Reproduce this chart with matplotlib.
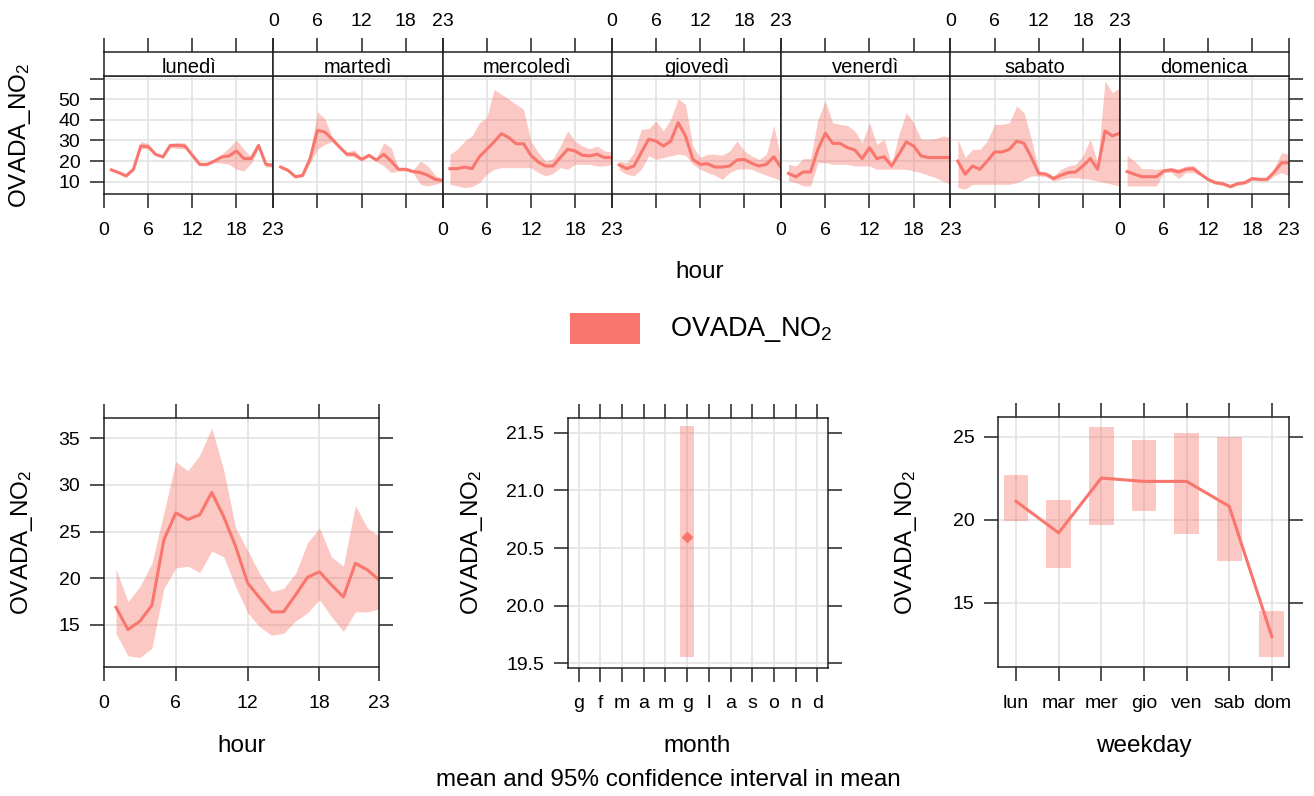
import matplotlib
matplotlib.use("Agg")
import matplotlib.pyplot as plt
from matplotlib.patches import Rectangle

plt.rcParams['font.family'] = ['Liberation Sans', 'DejaVu Sans']
plt.rcParams['mathtext.fontset'] = 'custom'
plt.rcParams['mathtext.rm'] = 'Liberation Sans'
plt.rcParams['mathtext.it'] = 'Liberation Sans:italic'
plt.rcParams['mathtext.bf'] = 'Liberation Sans:bold'

# ---- dati ----
hours = list(range(1, 24))
day_names = ['lunedì', 'martedì', 'mercoledì', 'giovedì', 'venerdì', 'sabato', 'domenica']

mean_lun = [15.7, 14.4, 12.8, 16.0, 27.3, 27.0, 23.3, 22.0, 27.6, 27.6, 27.3, 22.8,
            18.4, 18.4, 20.0, 22.0, 22.5, 24.9, 21.2, 21.2, 27.6, 18.4, 17.9]
lo_lun = [15.1, 13.8, 12.1, 15.2, 26.0, 26.0, 22.6, 21.3, 26.5, 26.0, 26.0, 22.0,
          17.7, 17.7, 19.2, 19.0, 18.4, 16.0, 15.2, 18.9, 26.0, 17.0, 17.2]
hi_lun = [16.3, 15.0, 13.4, 16.8, 29.5, 28.5, 24.0, 22.7, 28.5, 29.0, 28.8, 23.5,
          19.1, 19.1, 20.8, 23.3, 26.5, 30.2, 25.7, 22.1, 29.0, 19.5, 18.6]

mean_mar = [17.1, 15.5, 12.4, 13.1, 21.2, 34.9, 34.1, 30.6, 26.8, 23.3, 23.3, 20.8,
            22.8, 20.5, 23.3, 20.0, 16.0, 16.0, 14.9, 14.4, 13.1, 11.1, 10.6]
lo_mar = [16.4, 14.8, 11.7, 12.4, 19.0, 25.7, 28.1, 29.5, 26.0, 22.3, 22.0, 20.0,
          22.0, 19.7, 17.6, 14.4, 15.2, 15.2, 14.1, 8.7, 7.9, 8.7, 9.9]
hi_mar = [17.8, 16.2, 13.1, 13.8, 24.0, 43.8, 40.6, 31.5, 27.6, 24.3, 25.5, 21.6,
          23.6, 21.3, 28.9, 26.5, 16.8, 16.8, 15.7, 20.0, 17.6, 13.1, 11.3]

mean_mer = [16.3, 16.3, 17.1, 16.3, 22.1, 25.7, 29.3, 33.3, 31.4, 28.4, 28.4, 22.8,
            19.5, 17.6, 17.6, 21.7, 25.7, 24.9, 22.8, 22.5, 23.3, 21.7, 21.7]
lo_mer = [8.7, 7.9, 7.1, 7.6, 9.5, 13.6, 16.0, 16.8, 16.8, 16.8, 16.8, 16.8,
          14.4, 12.8, 14.0, 16.8, 16.0, 18.4, 18.4, 18.4, 17.6, 17.6, 18.4]
hi_mer = [23.3, 25.7, 29.7, 32.2, 38.6, 41.1, 54.8, 52.4, 50.0, 47.5, 45.1, 29.7,
          24.1, 20.0, 21.2, 27.3, 34.6, 29.7, 27.3, 26.0, 27.3, 24.9, 24.4]

mean_gio = [18.1, 16.3, 17.6, 24.1, 30.6, 29.7, 27.3, 29.7, 38.6, 32.2, 20.8, 18.4,
            18.7, 17.1, 17.1, 17.6, 20.5, 20.8, 18.9, 17.6, 18.4, 22.1, 16.8]
lo_gio = [15.7, 13.6, 12.8, 16.0, 22.5, 20.8, 21.7, 22.5, 23.3, 22.8, 18.4, 16.0,
          14.4, 13.1, 11.1, 14.4, 16.0, 16.3, 16.0, 14.4, 13.1, 11.9, 10.3]
hi_gio = [20.0, 19.2, 24.1, 35.4, 35.7, 39.4, 34.6, 40.3, 50.3, 47.5, 27.3, 21.7,
          23.3, 23.3, 22.8, 24.9, 29.7, 24.9, 22.5, 20.8, 23.3, 37.3, 20.8]

mean_ven = [14.0, 12.4, 14.7, 14.7, 25.7, 33.5, 28.6, 28.6, 26.5, 25.4, 21.2, 26.5,
            21.2, 22.1, 17.6, 23.3, 29.3, 27.3, 22.5, 21.7, 21.7, 21.7, 21.7]
lo_ven = [10.3, 9.5, 7.9, 7.9, 19.2, 19.2, 18.4, 18.4, 18.4, 17.6, 17.6, 17.6,
          16.0, 16.0, 16.0, 16.0, 16.0, 15.2, 14.4, 13.1, 11.9, 10.3, 8.7]
hi_ven = [18.4, 17.6, 21.2, 21.2, 40.3, 49.2, 38.6, 37.8, 37.3, 34.6, 28.9, 38.6,
          28.1, 30.6, 18.4, 33.0, 43.5, 38.6, 30.6, 30.6, 30.9, 32.2, 31.4]

mean_sab = [20.0, 13.6, 17.6, 16.0, 20.0, 24.4, 24.4, 25.7, 29.7, 28.6, 21.7, 14.0,
            13.6, 11.5, 13.1, 14.4, 14.7, 17.6, 21.2, 16.0, 34.6, 32.2, 33.5]
lo_sab = [7.1, 6.3, 8.7, 8.7, 8.7, 8.7, 8.7, 8.7, 9.5, 11.1, 12.8, 12.8,
          12.4, 10.3, 11.1, 11.9, 11.9, 11.5, 11.1, 10.3, 9.5, 8.7, 7.9]
hi_sab = [30.6, 21.7, 25.7, 25.7, 29.7, 37.8, 37.8, 38.6, 46.7, 43.5, 30.6, 15.2,
          14.7, 12.8, 16.0, 17.6, 18.4, 22.5, 30.6, 19.2, 58.9, 53.2, 55.6]

mean_dom = [14.9, 13.6, 12.4, 12.4, 12.4, 15.2, 15.7, 14.7, 16.0, 16.3, 13.6, 11.1,
            9.5, 9.0, 7.6, 9.0, 9.5, 11.5, 11.1, 11.1, 14.7, 19.2, 19.2]
lo_dom = [7.9, 7.9, 7.9, 7.9, 7.9, 14.4, 14.4, 11.5, 14.4, 14.4, 12.8, 10.3,
          8.7, 8.2, 6.8, 8.2, 8.7, 10.7, 10.3, 10.3, 12.8, 14.4, 12.8]
hi_dom = [22.8, 20.0, 16.3, 16.3, 16.0, 16.3, 16.8, 16.3, 17.6, 17.9, 14.4, 11.9,
          10.3, 9.8, 8.4, 9.8, 10.3, 12.3, 11.9, 11.9, 16.8, 24.1, 23.3]

# media oraria complessiva
hour_mean = [16.9, 14.5, 15.4, 17.1, 24.1, 27.0, 26.3, 26.8, 29.2, 26.6, 23.4, 19.5,
             17.9, 16.4, 16.4, 18.2, 20.1, 20.7, 19.3, 18.0, 21.6, 20.9, 19.8]
hour_lo = [14.1, 11.7, 11.5, 12.5, 18.9, 21.1, 21.3, 20.6, 22.9, 22.3, 19.1, 16.3,
           14.8, 13.9, 14.1, 15.4, 16.3, 17.7, 15.9, 14.3, 16.4, 16.4, 16.7]
hour_hi = [21.0, 17.5, 19.1, 21.6, 27.0, 32.5, 31.5, 33.2, 36.1, 31.6, 25.4, 23.0,
           20.5, 18.6, 18.9, 20.5, 23.8, 25.4, 22.3, 21.3, 27.8, 25.4, 24.5]

month_labels = ['g', 'f', 'm', 'a', 'm', 'g', 'l', 'a', 's', 'o', 'n', 'd']
month_num = [6]
month_mean = [20.6]
month_lo = [19.55]
month_hi = [21.56]

wd_labels = ['lun', 'mar', 'mer', 'gio', 'ven', 'sab', 'dom']
wd_mean = [21.1, 19.2, 22.5, 22.3, 22.3, 20.8, 12.95]
wd_lo = [19.9, 17.1, 19.7, 20.5, 19.1, 17.5, 11.7]
wd_hi = [22.7, 21.2, 25.6, 24.8, 25.2, 25.0, 14.5]

col = '#F8766D'
ylab = 'OVADA_NO$_2$'
TICK = 14
LAB = 17.5

W, H = 1314, 796
fig = plt.figure(figsize=(W / 100, H / 100), dpi=100)


def box(l, t, r, b):
    return [l / W, 1 - b / H, (r - l) / W, (b - t) / H]


def px(x, y):
    return x / W, 1 - y / H


def style(ax):
    for s in ax.spines.values():
        s.set_linewidth(1.1)
        s.set_color('#222222')
    ax.tick_params(direction='out', length=10, width=1.1, color='#222222',
                   labelsize=TICK, pad=7)
    ax.grid(True, color='#E3E3E3', lw=1.2)
    ax.set_axisbelow(True)


# ---- pannelli superiori: ora x giorno ----
means = [mean_lun, mean_mar, mean_mer, mean_gio, mean_ven, mean_sab, mean_dom]
los = [lo_lun, lo_mar, lo_mer, lo_gio, lo_ven, lo_sab, lo_dom]
his = [hi_lun, hi_mar, hi_mer, hi_gio, hi_ven, hi_sab, hi_dom]
x0, x1 = 104, 1289
pw = (x1 - x0) / 7
for i in range(7):
    l = x0 + i * pw
    r = l + pw
    ax = fig.add_axes(box(l, 76, r, 194))
    style(ax)
    ax.fill_between(hours, los[i], his[i], color=col, alpha=0.4, lw=0)
    ax.plot(hours, means[i], color=col, lw=2.2)
    ax.set_xlim(0, 23)
    ax.set_ylim(4.0, 61.3)
    ax.set_xticks([0, 6, 12, 18, 23])
    ax.set_yticks([10, 20, 30, 40, 50, 60])
    ax.set_yticklabels(['10', '20', '30', '40', '50', ''])
    ax.tick_params(top=False, left=(i == 0), right=(i == 6),
                   labelleft=(i == 0), labelright=False,
                   labelbottom=(i % 2 == 0))
    ax.tick_params(axis='x', pad=10)

    sax = fig.add_axes(box(l, 52.3, r, 76))
    for s in sax.spines.values():
        s.set_linewidth(1.1)
        s.set_color('#222222')
    sax.set_xlim(0, 23)
    sax.set_ylim(0, 1)
    sax.set_xticks([0, 6, 12, 18, 23])
    sax.set_yticks([])
    sax.tick_params(axis='x', direction='out', length=10, width=1.1, color='#222222',
                    labelsize=TICK, pad=6, top=True, bottom=False,
                    labeltop=(i % 2 == 1), labelbottom=False)
    sax.text(11.5, 0.14, day_names[i], ha='center', va='baseline',
             fontsize=14.5, clip_on=True)

fig.text(*px(20, 135), ylab, rotation=90, ha='center', va='center', fontsize=LAB)
fig.text(*px(700, 272), 'hour', ha='center', va='center', fontsize=LAB)

# legenda
fig.patches.append(Rectangle(px(570, 344), 70 / W, 31 / H,
                             transform=fig.transFigure, color=col, lw=0))
fig.text(*px(670, 330), ylab, ha='left', va='center', fontsize=19.5)

# ---- ora ----
ax = fig.add_axes(box(104, 418.3, 379.3, 667.3))
style(ax)
ax.fill_between(hours, hour_lo, hour_hi, color=col, alpha=0.4, lw=0)
ax.plot(hours, hour_mean, color=col, lw=2.2)
ax.set_xlim(0, 23)
ax.set_ylim(10.46, 37.14)
ax.set_xticks([0, 6, 12, 18, 23])
ax.set_yticks([15, 20, 25, 30, 35])
ax.tick_params(top=True, right=True)
ax.tick_params(axis='x', pad=10)
fig.text(*px(242, 746), 'hour', ha='center', va='center', fontsize=LAB)
fig.text(*px(22, 542), ylab, rotation=90, ha='center', va='center', fontsize=LAB)

# ---- mese ----
ax = fig.add_axes(box(567.7, 418, 828.3, 667.7))
style(ax)
ax.bar(month_num, [h - l for h, l in zip(month_hi, month_lo)], bottom=month_lo,
       width=0.64, color=col, alpha=0.4, lw=0)
ax.plot(month_num, month_mean, 'D', color=col, ms=5)
ax.set_xlim(0.5, 12.5)
ax.set_ylim(19.46, 21.63)
ax.set_xticks(range(1, 13))
ax.set_xticklabels(month_labels)
ax.set_yticks([19.5, 20.0, 20.5, 21.0, 21.5])
ax.set_yticklabels(['19.5', '20.0', '20.5', '21.0', '21.5'])
ax.tick_params(top=True, right=True)
ax.tick_params(axis='x', pad=10)
fig.text(*px(697, 746), 'month', ha='center', va='center', fontsize=LAB)
fig.text(*px(472, 542), ylab, rotation=90, ha='center', va='center', fontsize=LAB)

# ---- giorno della settimana ----
ax = fig.add_axes(box(998.3, 417.3, 1289.3, 667.3))
style(ax)
wd_x = list(range(1, 8))
ax.bar(wd_x, [h - l for h, l in zip(wd_hi, wd_lo)], bottom=wd_lo,
       width=0.58, color=col, alpha=0.4, lw=0)
ax.plot(wd_x, wd_mean, color=col, lw=2.2)
ax.set_xlim(0.585, 7.41)
ax.set_ylim(11.1, 26.16)
ax.set_xticks(wd_x)
ax.set_xticklabels(wd_labels)
ax.set_yticks([15, 20, 25])
ax.tick_params(top=True, right=True)
ax.tick_params(axis='x', pad=10)
fig.text(*px(1144, 746), 'weekday', ha='center', va='center', fontsize=LAB)
fig.text(*px(906, 542), ylab, rotation=90, ha='center', va='center', fontsize=LAB)

fig.text(*px(668, 780), 'mean and 95% confidence interval in mean',
         ha='center', va='center', fontsize=LAB)

fig.savefig('out.png', dpi=100)
